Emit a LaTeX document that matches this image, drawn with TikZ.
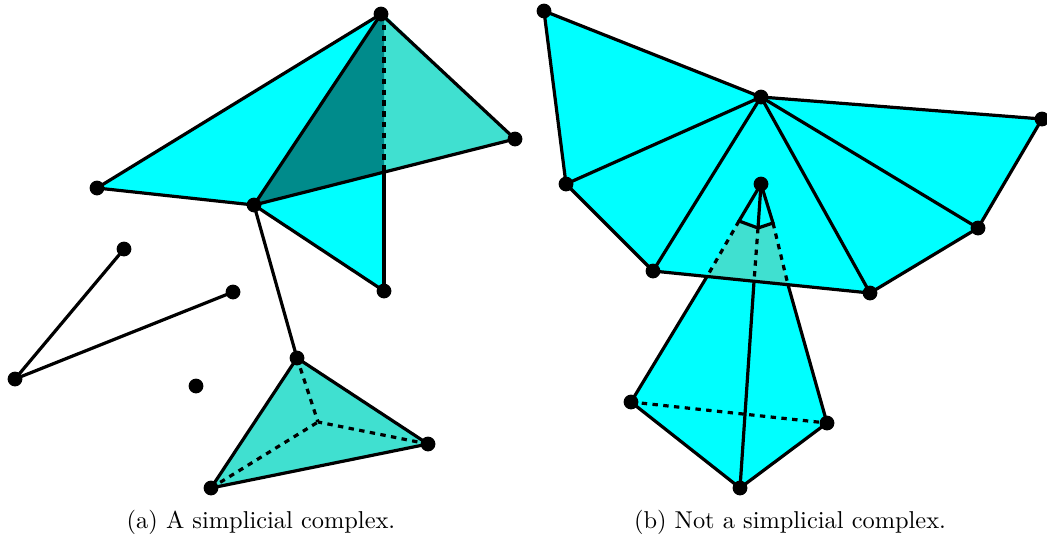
\documentclass[tikz,border=0pt]{standalone}
\usetikzlibrary{backgrounds}
\definecolor{cy}{RGB}{0,255,255}
\definecolor{tq}{RGB}{64,224,208}
\definecolor{dk}{RGB}{0,139,139}
\tikzset{
  vertexdot/.style={circle,fill=black,inner sep=0pt,minimum size=7.4pt},
  edgeline/.style={line width=1.6pt,line cap=round,line join=round},
  dashline/.style={line width=1.6pt,dash pattern=on 2.7pt off 2.7pt},
  captiontext/.style={inner sep=0pt,scale=1.22}
}
\begin{document}
\begin{tikzpicture}[x=0.5pt,y=-0.5pt]
\useasboundingbox (0,0) rectangle (1047,537);
% left
\node[vertexdot] (A) at (381,14) {};
\node[vertexdot] (B) at (515,139) {};
\node[vertexdot] (C) at (254,205) {};
\node[vertexdot] (D) at (97,188) {};
\node[vertexdot] (E) at (384,291) {};
\node[vertexdot] (F) at (297,358) {};
\node[vertexdot] (G) at (428,444) {};
\node[vertexdot] (H) at (211,488) {};
\node[vertexdot] (J) at (124,249) {};
\node[vertexdot] (K) at (233,292) {};
\node[vertexdot] (L) at (15,379) {};
\node[vertexdot] (M) at (196,386) {};
\coordinate (Ax) at (384,14);
\coordinate (X) at (384,172);
\coordinate (I) at (318,422);
% right
\node[vertexdot] (P) at (544,11) {};
\node[vertexdot] (Q) at (761,97) {};
\node[vertexdot] (R) at (1042,119) {};
\node[vertexdot] (S) at (566,184) {};
\node[vertexdot] (T) at (653,271) {};
\node[vertexdot] (U) at (870,293) {};
\node[vertexdot] (V) at (978,228) {};
\node[vertexdot] (W) at (761,184) {};
\node[vertexdot] (Y) at (631,402) {};
\node[vertexdot] (Z) at (827,423) {};
\node[vertexdot] (AA) at (740,488) {};
\coordinate (n1) at (739,221);
\coordinate (n2) at (758,228);
\coordinate (n3) at (773,223);
\coordinate (b1) at (707,276.5);
\coordinate (b2) at (754,281.5);
\coordinate (b3) at (788,284.7);
\node[captiontext] (capa) at (261,522) {(a) A simplicial complex.};
\node[captiontext] (capb) at (790,522) {(b) Not a simplicial complex.};
\begin{pgfonlayer}{background}
% left fills
\fill[cy] (D.center)--(A.center)--(C.center)--cycle;
\fill[cy] (C.center)--(X)--(E.center)--cycle;
\fill[tq] (Ax)--(B.center)--(X)--cycle;
\fill[dk] (A.center)--(Ax)--(X)--(C.center)--cycle;
\fill[tq] (F.center)--(G.center)--(H.center)--cycle;
% left edges
\draw[edgeline] (D.center)--(A.center);
\draw[edgeline] (D.center)--(C.center);
\draw[edgeline] (A.center)--(C.center);
\draw[edgeline] (A.center)--(B.center);
\draw[edgeline] (C.center)--(B.center);
\draw[edgeline] (C.center)--(E.center);
\draw[edgeline] (X)--(E.center);
\draw[dashline] (Ax)--(X);
\draw[edgeline] (C.center)--(F.center);
\draw[edgeline] (J.center)--(L.center);
\draw[edgeline] (L.center)--(K.center);
\draw[edgeline] (F.center)--(G.center);
\draw[edgeline] (G.center)--(H.center);
\draw[edgeline] (H.center)--(F.center);
\draw[dashline] (F.center)--(I);
\draw[dashline] (G.center)--(I);
\draw[dashline] (H.center)--(I);
% right fills
\fill[cy] (P.center)--(Q.center)--(S.center)--cycle;
\fill[cy] (S.center)--(Q.center)--(T.center)--cycle;
\fill[cy] (T.center)--(Q.center)--(U.center)--cycle;
\fill[cy] (U.center)--(Q.center)--(V.center)--cycle;
\fill[cy] (V.center)--(Q.center)--(R.center)--cycle;
\fill[cy] (b1)--(Y.center)--(AA.center)--(Z.center)--(b3)--cycle;
\fill[tq] (n1)--(n2)--(n3)--(b3)--(b1)--cycle;
% right edges
\draw[edgeline] (P.center)--(Q.center);
\draw[edgeline] (P.center)--(S.center);
\draw[edgeline] (S.center)--(Q.center);
\draw[edgeline] (S.center)--(T.center);
\draw[edgeline] (T.center)--(Q.center);
\draw[edgeline] (T.center)--(U.center);
\draw[edgeline] (U.center)--(Q.center);
\draw[edgeline] (U.center)--(V.center);
\draw[edgeline] (V.center)--(Q.center);
\draw[edgeline] (V.center)--(R.center);
\draw[edgeline] (Q.center)--(R.center);
\draw[edgeline] (W.center)--(n1);
\draw[edgeline] (W.center)--(n2);
\draw[edgeline] (W.center)--(n3);
\draw[edgeline] (n1)--(n2)--(n3);
\draw[dashline] (n1)--(b1);
\draw[dashline] (n2)--(b2);
\draw[dashline] (n3)--(b3);
\draw[edgeline] (b1)--(Y.center);
\draw[edgeline] (b2)--(AA.center);
\draw[edgeline] (b3)--(Z.center);
\draw[edgeline] (Y.center)--(AA.center);
\draw[edgeline] (AA.center)--(Z.center);
\draw[dashline] (Y.center)--(Z.center);
\end{pgfonlayer}
\end{tikzpicture}
\end{document}
